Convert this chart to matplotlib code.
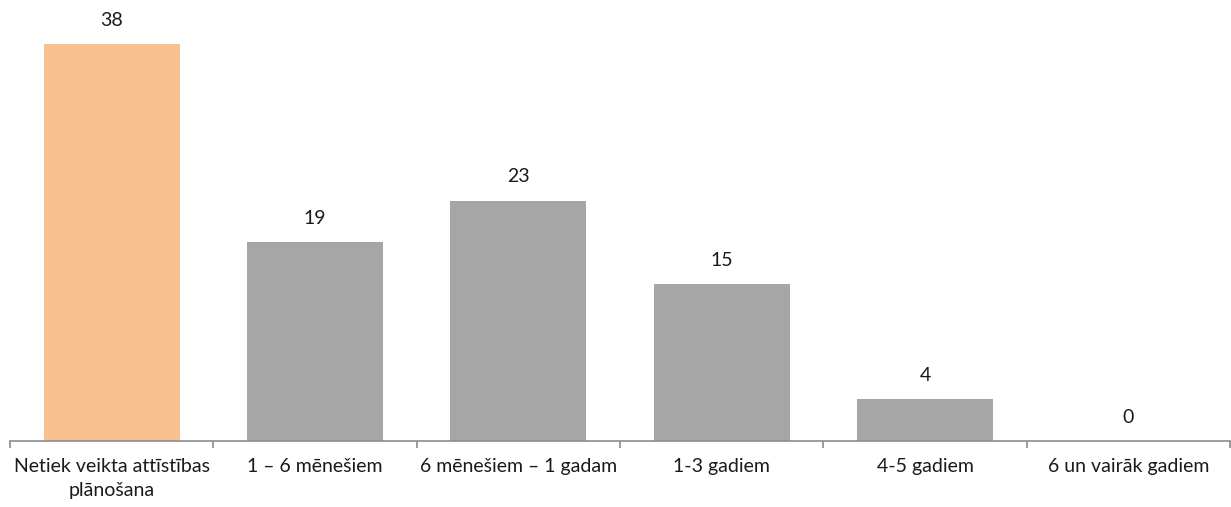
import matplotlib
matplotlib.use("Agg")
from matplotlib import pyplot as plt

categories = ["Netiek veikta attīstības\nplānošana", "1 – 6 mēnešiem", "6 mēnešiem – 1 gadam",
              "1-3 gadiem", "4-5 gadiem", "6 un vairāk gadiem"]
values = [38, 19, 23, 15, 4, 0]
colors = ["#F9C18F", "#A6A6A6", "#A6A6A6", "#A6A6A6", "#A6A6A6", "#A6A6A6"]

plt.rcParams['font.family'] = ['Lato', 'DejaVu Sans']

fig = plt.figure(figsize=(12.31, 5.07), dpi=100)
ax = fig.add_axes([10 / 1231, 66 / 507, 1220 / 1231, 418 / 507])

x = range(len(categories))
ax.bar(x, values, width=0.67, color=colors)
for i, v in zip(x, values):
    ax.annotate(str(v), (i, v), xytext=(0, 11), textcoords="offset points",
                ha="center", va="bottom", fontsize=14, color="#1A1A1A")

ax.set_xlim(-0.5, len(categories) - 0.5)
ax.set_ylim(0, 40)
ax.set_yticks([])
for s in ["left", "right", "top"]:
    ax.spines[s].set_visible(False)
ax.spines["bottom"].set_color("#8C8C8C")
ax.spines["bottom"].set_linewidth(1.2)

ax.set_xticks([i - 0.5 for i in range(len(categories) + 1)])
ax.set_xticklabels([])
ax.set_xticks(list(x), minor=True)
ax.set_xticklabels(categories, minor=True, fontsize=14, color="#1A1A1A", linespacing=1.5)
ax.tick_params(axis="x", which="major", length=5, color="#8C8C8C", width=1.2)
ax.tick_params(axis="x", which="minor", length=0, pad=12)

fig.savefig("out.png", dpi=100)
